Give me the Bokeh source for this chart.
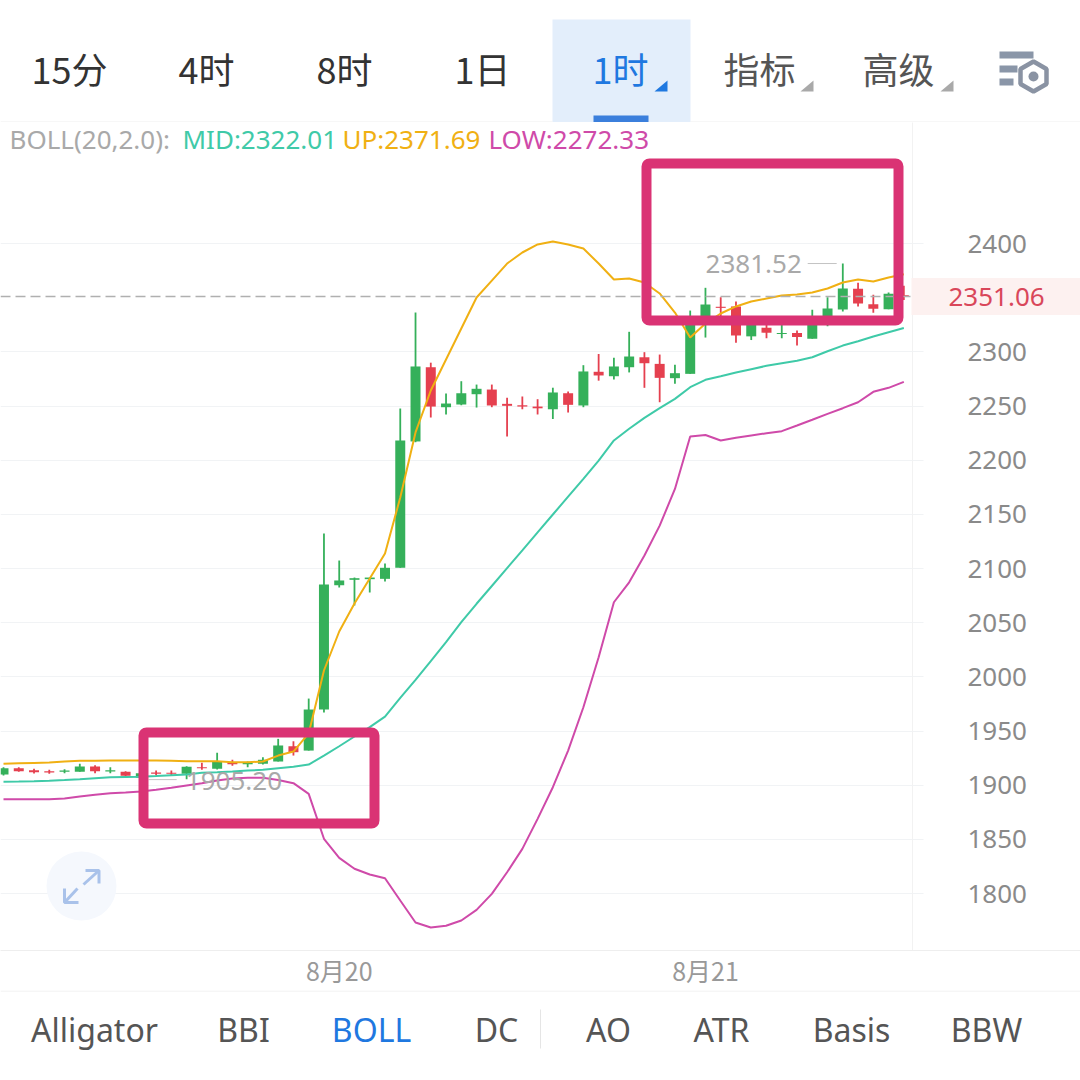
from bokeh.plotting import figure
from bokeh.layouts import column, row
from bokeh.models import Range1d, FixedTicker, BoxAnnotation, Label, Span, LinearAxis
from bokeh.core.properties import value
from bokeh.embed import file_html
from bokeh.resources import INLINE
import numpy as np

# ---- data, in price units, one entry per hourly candle ----
open_ = [1909.9,1915.7,1913.9,1913.0,1912.4,1912.4,1917.3,1912.7,1912.4,1906.9,1911.8,1911.5,1910.5,1916.6,1915.2,1921.0,1919.4,1919.8,1921.9,1936.0,1932.0,
         1969.9,2084.6,2089.6,2090.2,2090.5,2100.7,2217.3,2285.8,2248.9,2251.4,2260.9,2265.2,2252.0,2250.7,2249.5,2247.0,2261.8,2250.5,2281.6,2277.5,
         2285.8,2295.0,2288.9,2275.7,2279.7,2330.7,2341.6,2341.9,2314.3,2322.3,2316.4,2317.3,2312.2,2327.1,2339.1,2358.2,2344.0,2339.4,2352.3]
close = [1915.7,1913.0,1912.0,1911.8,1913.6,1917.3,1913.0,1913.9,1908.7,1911.1,1910.5,1910.5,1917.0,1915.7,1921.9,1919.4,1920.7,1923.5,1936.7,1930.5,1969.9,
         2085.3,2089.0,2091.1,2091.7,2100.7,2218.2,2286.5,2249.5,2252.3,2261.8,2265.9,2250.5,2250.2,2249.5,2247.9,2262.5,2251.1,2281.9,2278.2,2286.5,
         2295.7,2289.5,2276.0,2280.3,2330.7,2343.7,2340.6,2315.1,2329.1,2317.7,2317.3,2313.6,2330.7,2340.0,2358.5,2344.6,2339.7,2353.6,2351.06]
high = [1916.5,1916.6,1915.2,1914.2,1914.8,1919.8,1918.5,1916.6,1913.0,1912.0,1913.6,1913.6,1917.6,1920.7,1929.9,1923.5,1921.9,1925.9,1942.8,1940.6,1980.0,
        2132.4,2107.4,2091.7,2091.7,2104.7,2247.7,2336.3,2290.0,2261.5,2272.9,2269.8,2269.8,2257.6,2258.8,2256.3,2266.9,2263.4,2287.7,2298.0,2294.5,
        2318.5,2299.7,2297.5,2288.0,2338.1,2359.1,2350.4,2346.5,2332.8,2325.4,2325.4,2319.7,2338.8,2350.4,2381.52,2363.8,2352.6,2354.8,2361.0]
low = [1909.0,1912.4,1910.8,1910.5,1911.1,1912.4,1911.1,1911.1,1906.9,1905.2,1909.0,1909.0,1905.6,1914.2,1914.5,1917.9,1916.6,1919.1,1921.9,1927.4,1932.0,
       1967.1,2082.5,2065.9,2077.9,2088.0,2100.7,2216.6,2239.4,2242.2,2250.7,2248.6,2248.9,2221.9,2247.0,2242.2,2238.0,2244.0,2248.9,2273.4,2274.4,
       2281.0,2266.8,2253.5,2270.5,2279.7,2313.2,2332.6,2308.4,2310.9,2312.5,2312.5,2305.9,2312.2,2323.7,2337.2,2341.9,2336.0,2339.4,2347.9]
boll_up = [1919.8,1920.2,1920.6,1921.0,1921.9,1922.6,1922.7,1922.8,1922.8,1922.8,1922.8,1922.6,1922.2,1922.2,1922.2,1921.3,1921.3,1921.9,1927.4,1931.1,1947.8,
           2005.9,2041.9,2067.7,2090.8,2113.9,2165.6,2225.6,2264.3,2293.0,2321.6,2350.2,2365.8,2381.5,2391.7,2399.1,2401.8,2399.1,2395.4,2381.5,2366.8,
           2367.7,2364.0,2353.9,2336.3,2313.2,2326.2,2335.4,2341.9,2346.5,2349.2,2352.0,2352.9,2354.8,2358.5,2364.0,2366.8,2364.9,2368.6,2371.69]
boll_mid = [1903.2,1903.4,1903.7,1904.1,1904.8,1905.6,1906.5,1907.4,1907.6,1907.8,1908.5,1909.3,1909.9,1911.5,1912.0,1912.7,1913.6,1914.2,1915.7,1917.0,1919.1,
            1927.4,1936.0,1945.0,1953.6,1963.4,1980.7,1997.3,2014.5,2032.0,2050.5,2067.5,2083.9,2100.4,2116.8,2133.4,2149.9,2166.3,2182.8,2199.7,2218.2,
            2229.0,2239.1,2248.0,2256.6,2267.4,2274.2,2277.5,2280.9,2284.0,2287.1,2289.5,2291.7,2295.0,2300.6,2305.8,2309.8,2314.2,2318.1,2322.01]
boll_low = [1887.1,1887.1,1887.1,1887.1,1887.8,1889.6,1891.2,1892.6,1893.3,1894.2,1895.8,1897.6,1899.8,1901.9,1904.4,1906.2,1906.9,1906.9,1904.8,1901.9,1892.1,
            1850.6,1833.0,1822.9,1817.6,1814.2,1793.6,1773.3,1768.7,1770.3,1775.2,1785.0,1799.8,1819.7,1841.3,1869.0,1898.2,1932.0,1972.0,2018.1,2068.9,
            2087.3,2112.0,2139.6,2173.5,2221.8,2223.3,2218.2,2220.7,2222.8,2224.9,2226.8,2232.0,2237.3,2242.8,2248.0,2253.5,2263.1,2266.8,2272.33]
last_price = 2351.06
price_ticks = [1800,1850,1900,1950,2000,2050,2100,2150,2200,2250,2300,2400]
date_ticks = [22, 46]
date_labels = ["8月20", "8月21"]
period_tabs = ["15分", "4时", "8时", "1日", "1时", "指标", "高级"]
indicator_tabs = ["Alligator", "BBI", "BOLL", "DC", "AO", "ATR", "Basis", "BBW"]
legend_title = "BOLL(20,2.0):"

# ---- styles ----
UP, DOWN = "#35b05a", "#e5404f"
ORANGE, TEAL, MAGENTA, PINK = "#f0b013", "#3fcaa8", "#cf4aa9", "#da3374"
BLUE, GREY, DARK, MID_DARK = "#1f78e0", "#a9a9a9", "#333333", "#555555"
GRID, RULE = "#f1f3f5", "#eeeeee"
SANS, CJK = "Noto Sans", "Noto Sans CJK SC"
n = len(close)
xs = list(range(n))

def strip(height, top, bottom):
    f = figure(width=1080, height=height, x_range=Range1d(0, 1080), y_range=Range1d(bottom, top),
               x_axis_type=None, y_axis_type=None, toolbar_location=None, tools="",
               output_backend="svg", min_border=0, outline_line_color=None)
    f.grid.visible = False
    return f

# ---- header strip ----
head = strip(122, 0, 122)
head.quad(left=[552], right=[690], top=[19], bottom=[122], fill_color="#e3eefb", line_color=None)
head.quad(left=[593], right=[648], top=[115], bottom=[122], fill_color="#3b7fdc", line_color=None)
head.segment([0, 690], [121.5, 121.5], [552, 1080], [121.5, 121.5], line_color=RULE, line_width=1)
tab_x = [69, 206, 344, 482, 620, 759, 898]
tab_col = [DARK, DARK, DARK, DARK, BLUE, MID_DARK, MID_DARK]
head.text(tab_x, [67]*7, text=period_tabs, text_color=tab_col, text_font=value(CJK),
          text_font_size="36px", text_align="center", text_baseline="middle")
for x0, col in [(654, BLUE), (800, GREY), (940, GREY)]:
    head.patch([x0, x0+13, x0+13], [91, 80, 91], fill_color=col, line_color=None)
head.quad(left=[999, 999, 999], right=[1033, 1017, 1013], top=[51, 65, 78], bottom=[58, 72, 85],
          fill_color="#8a96a8", line_color=None)
head.patch([1033, 1046, 1046, 1033, 1020, 1020], [61, 68.5, 83.5, 91, 83.5, 68.5],
           fill_color="#ffffff", line_color="#8a93a3", line_width=4.5)
head.scatter([1033], [76], size=10, fill_color="#8a93a3", line_color=None)

# ---- main chart ----
X0, DX = 3.0, 15.26        # page px of candle 0, px per candle
PX = 1.0835                # px per price unit
Y0 = 122                   # page px of this figure's top edge
p = figure(width=1080, height=868, frame_width=912, frame_height=828,
           x_range=Range1d(-X0/DX, (912-X0)/DX),
           y_range=Range1d(2400-(950-243)/PX, 2400+(243-122)/PX),
           y_axis_location="right", toolbar_location=None, tools="", output_backend="svg",
           min_border_left=0, min_border_top=0, min_border_right=168, min_border_bottom=40,
           outline_line_color=None, background_fill_color="#ffffff", border_fill_color="#ffffff")
fx = lambda v: (v-X0)/DX
fy = lambda v: 2400-(v-243)/PX

p.xgrid.visible = False
p.ygrid.grid_line_color = GRID
p.ygrid.grid_line_width = 1
# price axis: its ticks continue the grid a little way past the divider
p.yaxis.ticker = FixedTicker(ticks=price_ticks)
p.yaxis.axis_line_color = "#f2f2f2"
p.yaxis.major_tick_line_color = GRID
p.yaxis.major_tick_in = 0
p.yaxis.major_tick_out = 11
p.yaxis.minor_tick_line_color = None
p.yaxis.major_label_standoff = 44
p.yaxis.major_label_text_color = "#8a8a8a"
p.yaxis.major_label_text_font = SANS
p.yaxis.major_label_text_font_size = "26px"

p.xaxis.ticker = FixedTicker(ticks=date_ticks)
p.xaxis.major_label_overrides = dict(zip(date_ticks, date_labels))
p.xaxis.axis_line_color = RULE
p.xaxis.major_tick_line_color = None
p.xaxis.major_tick_in = 0
p.xaxis.major_tick_out = 0
p.xaxis.minor_tick_line_color = None
p.xaxis.major_label_standoff = 1
p.xaxis.major_label_text_color = "#999999"
p.xaxis.major_label_text_font = CJK
p.xaxis.major_label_text_font_size = "25px"

def tick_axis(ticks, labels, t_in, t_out, t_col, t_width, standoff=0, col="#ffffff", size="0px"):
    a = LinearAxis(ticker=FixedTicker(ticks=ticks), major_label_overrides=dict(zip(ticks, labels)),
                   axis_line_color=None, minor_tick_line_color=None, major_tick_in=t_in, major_tick_out=t_out,
                   major_tick_line_color=t_col, major_tick_line_width=t_width, major_label_standoff=standoff,
                   major_label_text_color=col, major_label_text_font=SANS, major_label_text_font_size=size)
    p.add_layout(a, "right")
    return a

# last price tag
tick_axis([last_price], [f"{last_price:.2f}"], 118, 54, "#fdf1f0", 37, standoff=-135, col="#d9475a", size="26px")
# bottom rule carried across the price column
tick_axis([fy(949.6)], [""], 150, 40, RULE, 1)

def box(l, r, t, b, col=None, **kw):
    return BoxAnnotation(left=l, right=r, top=t-Y0, bottom=b-Y0, left_units="canvas", right_units="canvas",
                         top_units="canvas", bottom_units="canvas", fill_color=col,
                         fill_alpha=kw.pop("fill_alpha", 1), line_color=kw.pop("line_color", None), **kw)

def label(x, y, text, col, size):
    return Label(x=x, y=y-Y0, x_units="canvas", y_units="canvas", text=text, text_color=col,
                 text_font=SANS, text_font_size=size, text_align="left", text_baseline="middle")

# expand button
p.add_layout(box(46, 116, 851, 920, "#f5f8fd", border_radius=35, level="underlay"))
p.multi_line([[fx(83), fx(98.5)], [fx(85), fx(98.5), fx(98.5)], [fx(77), fx(64)], [fx(64), fx(64), fx(78)]],
             [[fy(884), fy(870)], [fy(870), fy(870), fy(883)], [fy(888), fy(902)], [fy(888), fy(902), fy(902)]],
             line_color="#a9c2ea", line_width=3)

# candles
colors = [UP if c >= o else DOWN for o, c in zip(open_, close)]
p.segment(xs, high, xs, low, line_color=colors, line_width=1.8)
p.vbar(xs, width=0.655, top=[max(o, c) for o, c in zip(open_, close)],
       bottom=[min(o, c) for o, c in zip(open_, close)], fill_color=colors, line_color=None)

# last price line
p.add_layout(Span(location=last_price, dimension="width", line_color="#b0b0b0", line_width=1.6, line_dash="10 5"))

# bands
p.line(xs, boll_up, line_color=ORANGE, line_width=2)
p.line(xs, boll_mid, line_color=TEAL, line_width=2)
p.line(xs, boll_low, line_color=MAGENTA, line_width=2)

# high / low marks
hi = int(np.argmax(high)); lo = int(np.argmin(low))
p.text([hi], [high[hi]], text=[f"{high[hi]:.2f}"], x_offset=-41, text_align="right", text_baseline="middle",
       text_color=GREY, text_font=value(SANS), text_font_size="26px")
p.segment([hi-0.4], [high[hi]], [hi-2.3], [high[hi]], line_color="#c4c4c4", line_width=1)
p.text([lo], [low[lo]], text=[f"{low[lo]:.2f}"], x_offset=45, y_offset=1, text_align="left", text_baseline="middle",
       text_color=GREY, text_font=value(SANS), text_font_size="26px")
p.segment([lo+0.5], [low[lo]], [lo+2.35], [low[lo]], line_color="#c4c4c4", line_width=1)

# legend line
p.add_layout(label(9, 138, legend_title, GREY, "26px"))
p.add_layout(label(182, 138, f"MID:{boll_mid[-1]:.2f}", TEAL, "26px"))
p.add_layout(label(342, 138, f"UP:{boll_up[-1]:.2f}", ORANGE, "26px"))
p.add_layout(label(488, 138, f"LOW:{boll_low[-1]:.2f}", MAGENTA, "26px"))

# hand-drawn highlight frames
for l, r, t, b in [(143, 374, 732, 823), (646, 898, 163, 320)]:
    p.add_layout(box(l, r, t, b, None, fill_alpha=0, line_color=PINK, line_width=10, line_alpha=1, border_radius=3))

# ---- footer strip ----
foot = strip(90, 990, 1080)
foot.segment([0], [990.5], [1080], [990.5], line_color=RULE, line_width=1)
foot.segment([540], [1009], [540], [1048], line_color="#e5e5e5", line_width=1)
ind_x = [94, 243, 371, 496, 608, 721, 851, 986]
ind_col = [MID_DARK, MID_DARK, BLUE] + [MID_DARK]*5
foot.text(ind_x, [1029]*8, text=indicator_tabs, text_color=ind_col, text_font=value(SANS),
          text_font_size="32px", text_align="center", text_baseline="middle")

page = column(row(head), p, row(foot), spacing=0)
open("out.html", "w").write(file_html(page, INLINE))
